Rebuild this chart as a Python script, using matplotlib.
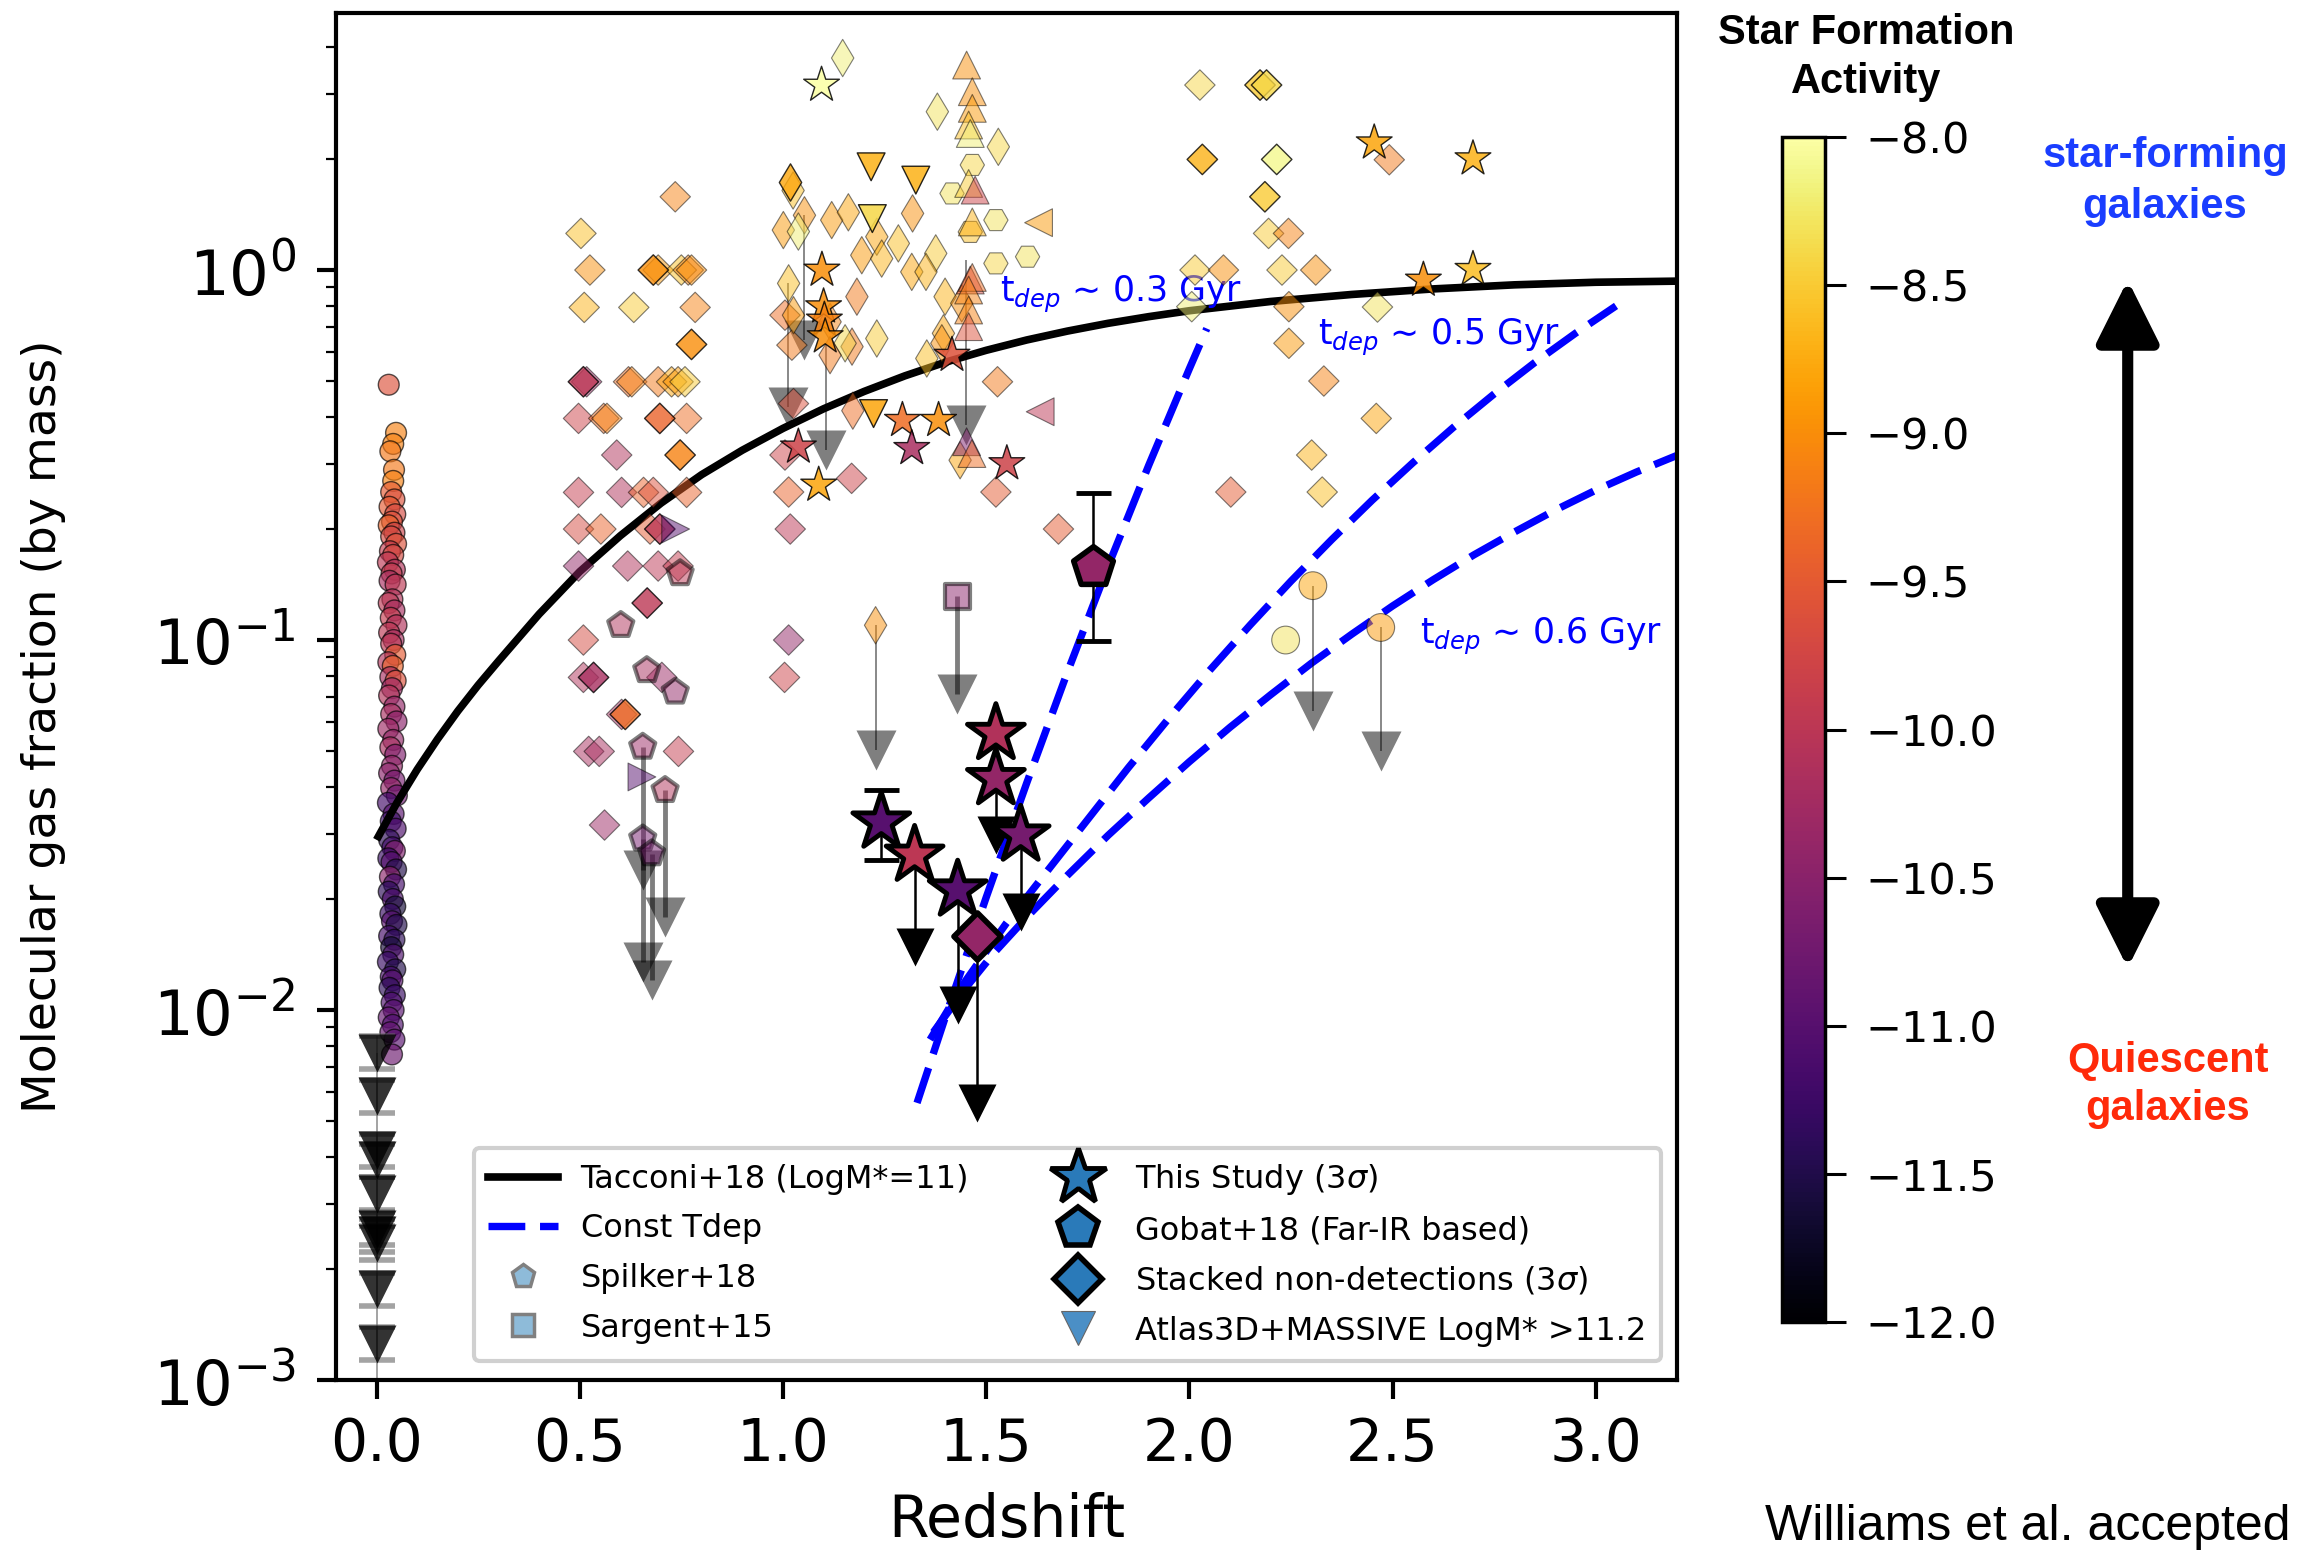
import numpy as np
import matplotlib.pyplot as plt
from matplotlib.lines import Line2D
from matplotlib.patches import FancyArrowPatch
from matplotlib.cm import ScalarMappable
from matplotlib.colors import Normalize

plt.rcParams['font.family'] = ['DejaVu Sans']
plt.rcParams['mathtext.fontset'] = 'dejavusans'

# z = redshift, logf = log10(molecular gas fraction), ssfr = log10(sSFR / yr^-1)

# Tacconi+18 scaling relation at LogM*=11
tacconi_z = [0.00, 0.05, 0.10, 0.15, 0.20, 0.25, 0.30, 0.40, 0.50, 0.60,
             0.70, 0.80, 0.90, 1.00, 1.10, 1.20, 1.30, 1.40, 1.50, 1.60,
             1.70, 1.80, 1.90, 2.00, 2.20, 2.40, 2.60, 2.80, 3.00, 3.20]
tacconi_logf = [-1.540, -1.440, -1.350, -1.268, -1.192, -1.122, -1.057, -0.930, -0.815, -0.718,
                -0.630, -0.553, -0.487, -0.428, -0.375, -0.328, -0.286, -0.249, -0.217, -0.189,
                -0.165, -0.144, -0.126, -0.110, -0.085, -0.066, -0.051, -0.040, -0.033, -0.030]

# constant depletion time tracks
tdep03_z = [1.33, 1.40, 1.50, 1.60, 1.70, 1.80, 1.90, 2.00, 2.043]
tdep03_logf = [-2.251, -2.018, -1.696, -1.386, -1.087, -0.801, -0.528, -0.267, -0.158]
tdep05_z = [1.362, 1.45, 1.55, 1.65, 1.75, 1.85, 1.95, 2.05, 2.15, 2.25,
            2.35, 2.45, 2.55, 2.65, 2.75, 2.85, 2.95, 3.05]
tdep05_logf = [-2.080, -1.920, -1.765, -1.625, -1.485, -1.345, -1.211, -1.082, -0.959, -0.841,
               -0.729, -0.622, -0.521, -0.425, -0.335, -0.250, -0.171, -0.097]
tdep06_z = [1.37, 1.45, 1.52, 1.60, 1.70, 1.80, 1.90, 2.00, 2.10, 2.20,
            2.30, 2.40, 2.50, 2.60, 2.70, 2.80, 2.90, 3.00, 3.10, 3.20]
tdep06_logf = [-2.060, -1.940, -1.845, -1.749, -1.636, -1.528, -1.427, -1.329, -1.236, -1.148,
               -1.063, -0.984, -0.908, -0.837, -0.770, -0.708, -0.649, -0.595, -0.546, -0.501]

# local galaxies (z ~ 0 column)
col_z = [0.030, 0.048, 0.041, 0.034, 0.043, 0.041, 0.036, 0.044, 0.032, 0.046,
         0.038, 0.030, 0.044, 0.036, 0.048, 0.033, 0.041, 0.028, 0.045, 0.037,
         0.032, 0.047, 0.039, 0.030, 0.044, 0.035, 0.049, 0.031, 0.042, 0.036,
         0.046, 0.029, 0.040, 0.034, 0.047, 0.038, 0.031, 0.044, 0.036, 0.049,
         0.029, 0.041, 0.034, 0.046, 0.038, 0.031, 0.044, 0.036, 0.050, 0.028,
         0.042, 0.035, 0.047, 0.031, 0.039, 0.045, 0.029, 0.037, 0.048, 0.033,
         0.043, 0.030, 0.040, 0.046, 0.034, 0.038, 0.049, 0.031, 0.044, 0.036,
         0.041, 0.028, 0.046, 0.035, 0.039, 0.032, 0.045, 0.037, 0.042, 0.030,
         0.040, 0.034, 0.044, 0.038]
col_logf = [-0.31, -0.44, -0.47, -0.49, -0.54, -0.57, -0.60, -0.62, -0.64, -0.66,
            -0.68, -0.69, -0.71, -0.72, -0.74, -0.76, -0.77, -0.79, -0.81, -0.82,
            -0.84, -0.85, -0.89, -0.90, -0.92, -0.94, -0.96, -0.98, -1.00, -1.01,
            -1.04, -1.06, -1.07, -1.10, -1.11, -1.13, -1.15, -1.18, -1.20, -1.22,
            -1.24, -1.27, -1.29, -1.31, -1.34, -1.36, -1.38, -1.40, -1.42, -1.44,
            -1.47, -1.49, -1.51, -1.54, -1.56, -1.57, -1.59, -1.60, -1.62, -1.64,
            -1.66, -1.68, -1.70, -1.72, -1.74, -1.76, -1.77, -1.80, -1.81, -1.83,
            -1.85, -1.87, -1.89, -1.91, -1.92, -1.94, -1.96, -1.98, -2.00, -2.02,
            -2.04, -2.06, -2.08, -2.12]
col_ssfr = [-9.6, -9.1, -9.1, -9.2, -9.2, -9.1, -9.5, -9.6, -9.5, -9.7,
            -9.6, -9.4, -9.8, -9.7, -9.6, -9.9, -9.7, -10.0, -10.1, -9.9,
            -10.2, -10.0, -10.1, -10.0, -10.2, -9.9, -10.1, -10.0, -10.2, -10.0,
            -9.5, -10.1, -9.4, -10.2, -9.6, -10.3, -10.1, -10.4, -10.2, -10.5,
            -10.3, -10.4, -10.2, -10.6, -10.4, -10.5, -10.7, -10.4, -10.8, -11.2,
            -11.0, -11.3, -11.1, -11.4, -11.2, -10.6, -11.3, -11.0, -11.5, -10.5,
            -11.2, -11.4, -11.1, -11.6, -11.3, -11.0, -11.5, -11.2, -11.4, -11.6,
            -11.1, -11.3, -11.5, -11.2, -11.0, -11.4, -11.3, -11.1, -11.0, -10.9,
            -11.1, -10.9, -11.0, -10.8]

# Atlas3D + MASSIVE upper limits at z = 0
atlas_z = [0.0] * 10
atlas_logf = [-2.115, -2.233, -2.379, -2.406, -2.496, -2.591, -2.609, -2.630, -2.755, -2.902]
atlas_err_dex = 0.045

# literature diamonds (square)
dia_z = [0.735, 0.503, 0.525, 0.693, 0.750, 0.767, 0.775, 0.511, 0.633, 0.784,
         0.517, 0.620, 0.628, 0.693, 0.726, 0.742, 0.759, 0.497, 0.559, 0.567,
         0.763, 0.591, 0.497, 0.603, 0.657, 0.681, 0.763, 0.497, 0.552, 0.673,
         0.497, 0.618, 0.693, 0.742, 0.509, 0.509, 0.702, 0.603, 0.522, 0.548,
         0.743, 0.561, 1.005, 1.022, 1.026, 1.005, 1.014, 1.018, 1.014, 1.004,
         1.169, 1.528, 1.524, 1.678, 2.026, 2.195, 2.244, 2.014, 2.084, 2.228,
         2.311, 2.006, 2.245, 2.245, 2.331, 2.301, 2.327, 2.102, 2.492, 2.463,
         2.460]
dia_logf = [0.198, 0.099, 0.0, 0.0, 0.0, 0.0, 0.0, -0.101, -0.101, -0.101,
            -0.302, -0.302, -0.302, -0.302, -0.302, -0.302, -0.302, -0.401, -0.401, -0.401,
            -0.401, -0.500, -0.601, -0.601, -0.601, -0.601, -0.601, -0.700, -0.700, -0.700,
            -0.800, -0.800, -0.800, -0.800, -1.000, -1.101, -1.101, -1.201, -1.301, -1.301,
            -1.301, -1.500, -0.122, -0.203, -0.361, -0.500, -0.600, -0.700, -1.000, -1.101,
            -0.563, -0.302, -0.600, -0.700, 0.500, 0.099, 0.099, 0.0, 0.0, 0.0,
            0.0, -0.099, -0.099, -0.198, -0.300, -0.500, -0.600, -0.600, 0.298, -0.100,
            -0.401]
dia_ssfr = [-9.1, -8.6, -9.0, -8.9, -8.6, -9.1, -9.0, -8.7, -8.5, -9.1,
            -10.3, -9.3, -9.1, -9.2, -8.8, -8.9, -8.5, -9.8, -9.3, -9.1,
            -9.3, -10.1, -9.9, -10.1, -9.4, -9.6, -9.4, -9.7, -9.4, -9.5,
            -10.4, -10.1, -10.0, -9.9, -9.7, -10.1, -10.3, -10.2, -10.2, -10.2,
            -9.9, -10.3, -9.3, -9.2, -9.6, -9.8, -9.4, -10.0, -10.4, -9.8,
            -9.8, -9.2, -9.5, -9.5, -8.4, -8.5, -9.1, -8.5, -9.0, -8.5,
            -9.0, -8.2, -9.0, -8.9, -9.1, -8.7, -8.6, -9.5, -9.2, -8.3,
            -8.8]

# overlapping / darker diamonds
dia2_z = [0.775, 0.697, 0.697, 0.666, 0.534, 0.612, 0.509, 0.681, 0.747,
          2.174, 2.190, 2.032, 2.215, 2.186]
dia2_logf = [-0.201, -0.401, -0.700, -0.900, -1.101, -1.201, -0.302, 0.0, -0.500,
             0.500, 0.500, 0.299, 0.299, 0.198]
dia2_ssfr = [-9.0, -9.4, -10.0, -10.0, -10.2, -9.3, -10.0, -9.0, -9.1,
             -8.5, -8.4, -8.7, -8.1, -8.5]

# literature thin diamonds
thin_z = [1.025, 1.053, 1.001, 1.038, 1.120, 1.161, 1.147, 1.380, 1.530, 1.319,
          1.231, 1.194, 1.284, 1.243, 1.376, 1.317, 1.352, 1.014, 1.026, 1.116,
          1.182, 1.399, 1.440, 1.170, 1.231, 1.153, 1.116, 1.395, 1.391, 1.354,
          1.172, 1.436, 1.228]
thin_logf = [0.215, 0.148, 0.108, 0.104, 0.135, 0.156, 0.573, 0.428, 0.333, 0.153,
             0.090, 0.040, 0.072, 0.031, 0.045, -0.005, -0.005, -0.036, -0.122, -0.140,
             -0.072, -0.072, -0.090, -0.207, -0.185, -0.198, -0.230, -0.171, -0.198, -0.239,
             -0.380, -0.514, -0.960]
thin_ssfr = [-8.6, -9.0, -8.9, -8.2, -8.9, -8.8, -8.2, -8.3, -8.4, -9.0,
             -8.8, -8.9, -8.6, -8.7, -8.5, -8.8, -8.7, -8.6, -8.9, -9.1,
             -9.2, -8.7, -9.0, -9.2, -8.5, -8.4, -9.2, -8.8, -9.0, -8.6,
             -9.3, -8.8, -9.0]
thin2_z = [1.018]
thin2_logf = [0.238]
thin2_ssfr = [-8.8]

hex_z = [1.466, 1.416, 1.524, 1.461, 1.524, 1.602]
hex_logf = [0.284, 0.207, 0.135, 0.103, 0.018, 0.036]
hex_ssfr = [-8.4, -8.3, -8.3, -8.6, -8.4, -8.3]

up_z = [1.452, 1.466, 1.466, 1.457, 1.461, 1.457, 1.473, 1.466, 1.461, 1.466,
        1.457, 1.457, 1.457, 1.452, 1.465]
up_logf = [0.554, 0.482, 0.437, 0.392, 0.369, 0.234, 0.216, 0.130, -0.027, -0.020,
           -0.054, -0.108, -0.153, -0.464, -0.496]
up_ssfr = [-9.0, -9.0, -8.9, -8.6, -8.2, -8.5, -9.8, -8.7, -9.7, -9.3,
           -9.1, -9.1, -9.6, -10.6, -9.3]

down_z = [1.217, 1.327, 1.220, 1.223]
down_logf = [0.279, 0.243, 0.139, -0.388]
down_ssfr = [-8.7, -8.7, -8.4, -8.8]

left_z = [1.629, 1.633]
left_logf = [0.128, -0.383]
left_ssfr = [-8.9, -10.0]

right_z = [0.736, 0.653]
right_logf = [-0.700, -1.370]
right_ssfr = [-11.0, -11.0]

star_z = [1.095, 1.096, 1.100, 1.102, 1.104, 1.294, 1.383, 1.317, 1.551, 1.038,
          1.088, 1.416, 2.455, 2.576, 2.698, 2.698]
star_logf = [0.500, 0.0, -0.099, -0.135, -0.180, -0.406, -0.406, -0.482, -0.523, -0.478,
             -0.581, -0.230, 0.344, -0.027, 0.301, 0.002]
star_ssfr = [-8.0, -9.0, -9.0, -9.1, -9.0, -9.3, -9.0, -10.2, -9.8, -9.8,
             -8.8, -9.6, -8.8, -9.0, -8.7, -8.6]

circ_z = [2.304, 2.471, 2.237]
circ_logf = [-0.853, -0.966, -1.000]
circ_ssfr = [-8.8, -8.9, -8.3]

# Spilker+18
spilker_z = [0.601, 0.665, 0.735, 0.655, 0.710, 0.655, 0.677, 0.747]
spilker_logf = [-0.960, -1.082, -1.140, -1.289, -1.406, -1.537, -1.577, -0.820]
spilker_ssfr = [-10.1, -10.2, -10.4, -10.3, -10.1, -10.7, -10.7, -10.0]
spilker_lim_z = [0.655, 0.710, 0.655, 0.677]
spilker_lim_top = [-1.289, -1.406, -1.537, -1.577]
spilker_lim_bot = [-1.622, -1.749, -1.870, -1.920]

# Sargent+15
sargent_z = [1.429]
sargent_logf = [-0.881]
sargent_ssfr = [-10.5]
sargent_lim_bot = [-1.145]

# other literature upper limits
lim_z = [1.053, 1.012, 1.107, 1.450, 1.228, 2.304, 2.471]
lim_top = [0.148, -0.036, -0.200, 0.027, -0.960, -0.853, -0.966]
lim_bot = [-0.190, -0.370, -0.487, -0.419, -1.298, -1.192, -1.299]

# this study
this_z = [1.242, 1.324, 1.430, 1.524, 1.524, 1.585]
this_f = [0.0322, 0.0262, 0.0211, 0.0559, 0.0422, 0.0297]
this_ssfr = [-11.0, -10.0, -11.0, -10.1, -10.4, -10.7]
this_err_lo = [0.0067]
this_err_hi = [0.0072]
this_lim_z = [1.324, 1.430, 1.524, 1.585]
this_lim_top = [0.0262, 0.0211, 0.0422, 0.0297]
this_lim_bot = [0.0148, 0.0103, 0.0297, 0.0184]

# Gobat+18
gobat_z, gobat_f, gobat_ssfr = [1.762], [0.158], [-10.4]
gobat_err_lo, gobat_err_hi = [0.0585], [0.092]

# stacked non-detections
stack_z, stack_f, stack_ssfr = [1.477], [0.0159], [-10.4]
stack_lim_bot = [0.0056]

cb_ticks = [-12.0, -11.5, -11.0, -10.5, -10.0, -9.5, -9.0, -8.5, -8.0]

# ---------------------------------------------------------------------------
cmap = plt.get_cmap('inferno')
norm = Normalize(vmin=-12.0, vmax=-8.0)

fig = plt.figure(figsize=(23.15, 15.52), dpi=100)
ax = fig.add_axes([0.1451, 0.1108, 0.5793, 0.8808])
ax.set_yscale('log')
ax.set_xlim(-0.1, 3.2)
ax.set_ylim(1e-3, 4.95)


def lin(v):
    return np.power(10.0, np.asarray(v, dtype=float))


def cloud(z, logf, ssfr, marker, ms, alpha=0.5, lw=0.8, ec='k', zorder=3):
    ax.scatter(z, lin(logf), c=ssfr, cmap=cmap, norm=norm, marker=marker,
               s=ms ** 2, alpha=alpha, edgecolors=ec, linewidths=lw, zorder=zorder)


def drop(z, top, bot, lw, ms, color=(0, 0, 0, 0.5), zorder=2.5):
    ax.vlines(z, bot, top, colors=[color], lw=lw, zorder=zorder)
    ax.plot(z, bot, ls='none', marker='v', ms=ms, mfc=color, mec='none', zorder=zorder)


# local column sits underneath the scaling relation
cloud(col_z, col_logf, col_ssfr, 'o', 15, alpha=0.65, lw=1.0, zorder=1.8)

# model curves
ax.plot(tacconi_z, lin(tacconi_logf), color='k', lw=5.5, zorder=2,
        solid_capstyle='butt', solid_joinstyle='round')
for zz, ff in [(tdep03_z, tdep03_logf), (tdep05_z, tdep05_logf), (tdep06_z, tdep06_logf)]:
    ax.plot(zz, lin(ff), color='blue', lw=5.3, ls=(0, (5, 2)), zorder=2)

tdep_style = dict(color='blue', fontsize=25, va='baseline')
ax.text(1.534, lin(-0.086), 't$_{dep}$ \u223c 0.3 Gyr', **tdep_style)
ax.text(2.316, lin(-0.203), 't$_{dep}$ \u223c 0.5 Gyr', **tdep_style)
ax.text(2.568, lin(-1.012), 't$_{dep}$ \u223c 0.6 Gyr', **tdep_style)

# Atlas3D + MASSIVE
atlas_f = lin(atlas_logf)
ax.vlines(0.0, 1e-3, atlas_f.max(), colors=[(0.3, 0.3, 0.3, 0.6)], lw=1.2, zorder=2)
ax.errorbar(atlas_z, atlas_f,
            yerr=[atlas_f * (1 - 10 ** -atlas_err_dex), atlas_f * (10 ** atlas_err_dex - 1)],
            fmt='none', ecolor=(0.4, 0.4, 0.4, 0.6), elinewidth=1.2,
            capsize=13, capthick=4, zorder=3)
ax.plot(atlas_z, atlas_f, ls='none', marker='v', ms=27, mfc=(0, 0, 0, 0.8),
        mec='none', zorder=3)

# literature limits
drop(spilker_lim_z, lin(spilker_lim_top), lin(spilker_lim_bot), lw=3.5, ms=29)
drop(sargent_z, lin(sargent_logf), lin(sargent_lim_bot), lw=3.5, ms=29)
drop(lim_z, lin(lim_top), lin(lim_bot), lw=1.3, ms=29)

# literature points
cloud(dia_z, dia_logf, dia_ssfr, 'D', 15.5)
cloud(dia2_z, dia2_logf, dia2_ssfr, 'D', 15.5, alpha=0.8, lw=1.0)
cloud(thin_z, thin_logf, thin_ssfr, 'd', 19)
cloud(thin2_z, thin2_logf, thin2_ssfr, 'd', 19, alpha=0.8, lw=1.0)
cloud(hex_z, hex_logf, hex_ssfr, 'H', 17.5)
cloud(up_z, up_logf, up_ssfr, '^', 20)
cloud(down_z, down_logf, down_ssfr, 'v', 20, alpha=0.85, lw=1.0)
cloud(left_z, left_logf, left_ssfr, '<', 20)
cloud(right_z, right_logf, right_ssfr, '>', 20)
cloud(star_z, star_logf, star_ssfr, '*', 27, alpha=0.85, lw=1.0)
cloud(circ_z, circ_logf, circ_ssfr, 'o', 20)
cloud(spilker_z, spilker_logf, spilker_ssfr, 'p', 19, lw=3.0)
cloud(sargent_z, sargent_logf, sargent_ssfr, 's', 18, lw=3.0)

# this study, Gobat+18 and stacked non-detections
drop(this_lim_z, this_lim_top, this_lim_bot, lw=1.8, ms=28, color='k', zorder=4)
drop(stack_z, stack_f, stack_lim_bot, lw=1.8, ms=28, color='k', zorder=4)
ax.errorbar(this_z[:1], this_f[:1], yerr=[this_err_lo, this_err_hi], fmt='none',
            ecolor='k', elinewidth=1.8, capsize=12.6, capthick=3.5, zorder=4)
ax.errorbar(gobat_z, gobat_f, yerr=[gobat_err_lo, gobat_err_hi], fmt='none',
            ecolor='k', elinewidth=1.8, capsize=12.6, capthick=3.5, zorder=4)
ax.scatter(gobat_z, gobat_f, c=gobat_ssfr, cmap=cmap, norm=norm, marker='p',
           s=30 ** 2, edgecolors='k', linewidths=4, zorder=6)
ax.scatter(stack_z, stack_f, c=stack_ssfr, cmap=cmap, norm=norm, marker='D',
           s=24 ** 2, edgecolors='k', linewidths=4, zorder=6)
ax.scatter(this_z, this_f, c=this_ssfr, cmap=cmap, norm=norm, marker='*',
           s=43 ** 2, edgecolors='k', linewidths=3.5, zorder=7)

# axes styling
ax.set_xticks([0.0, 0.5, 1.0, 1.5, 2.0, 2.5, 3.0])
ax.tick_params(axis='both', which='major', labelsize=42, length=14, width=3)
ax.tick_params(axis='y', which='major', labelsize=45, pad=15)
ax.tick_params(axis='y', which='minor', length=7, width=1.6)
ax.tick_params(axis='x', pad=12)
for sp in ax.spines.values():
    sp.set_linewidth(3)
ax.set_xlabel('Redshift', fontsize=42)
ax.xaxis.set_label_coords(0.5, -0.082)
ax.set_ylabel('Molecular gas fraction (by mass)', fontsize=34)
ax.yaxis.set_label_coords(-0.201, 0.478)

# legend
blue = '#2a7ab9'
handles = [
    Line2D([], [], color='k', lw=5.5),
    Line2D([], [], color='blue', lw=5.3, ls=(0, (5, 2))),
    Line2D([], [], ls='none', marker='p', ms=17, mfc=(0.12, 0.47, 0.71, 0.5),
           mec=(0.5, 0.5, 0.5), mew=2.5),
    Line2D([], [], ls='none', marker='s', ms=16, mfc=(0.12, 0.47, 0.71, 0.5),
           mec=(0.5, 0.5, 0.5), mew=2.5),
    Line2D([], [], ls='none', marker='*', ms=42, mfc=blue, mec='k', mew=3.5),
    Line2D([], [], ls='none', marker='p', ms=30, mfc=blue, mec='k', mew=4),
    Line2D([], [], ls='none', marker='D', ms=24, mfc=blue, mec='k', mew=4),
    Line2D([], [], ls='none', marker='v', ms=24, mfc='#4b8fc6', mec=(0.4, 0.4, 0.4), mew=0.8),
]
labels = ['Tacconi+18 (LogM*=11)', 'Const Tdep', 'Spilker+18', 'Sargent+15',
          r'This Study (3$\sigma$)', 'Gobat+18 (Far-IR based)',
          r'Stacked non-detections (3$\sigma$)', 'Atlas3D+MASSIVE LogM* >11.2']
leg = ax.legend(handles, labels, ncol=2, fontsize=23, loc='lower right',
                bbox_to_anchor=(0.988, 0.014), borderaxespad=0, handlelength=2.2,
                handletextpad=0.7, columnspacing=2.3, labelspacing=0.58,
                borderpad=0.45, framealpha=1, fancybox=True)
leg.get_frame().set_edgecolor('#d0d0d0')
leg.get_frame().set_linewidth(3)
leg.set_zorder(8)

# colour bar
cax = fig.add_axes([0.7698, 0.1482, 0.0186, 0.7635])
cb = fig.colorbar(ScalarMappable(norm=norm, cmap=cmap), cax=cax, ticks=cb_ticks)
cb.ax.tick_params(labelsize=31, length=15, width=2.2, pad=14)
cb.outline.set_linewidth(2.5)

side = ['Liberation Sans', 'DejaVu Sans']
fig.text(0.806, 0.9718, 'Star Formation', ha='center', va='baseline',
         fontsize=30, fontweight='bold', family=side)
fig.text(0.806, 0.9401, 'Activity', ha='center', va='baseline',
         fontsize=30, fontweight='bold', family=side)
fig.text(0.9352, 0.8921, 'star-forming', ha='center', va='baseline',
         fontsize=30, fontweight='bold', color='#1a3dff', family=side)
fig.text(0.9352, 0.8596, 'galaxies', ha='center', va='baseline',
         fontsize=30, fontweight='bold', color='#1a3dff', family=side)
fig.text(0.9363, 0.3093, 'Quiescent', ha='center', va='baseline',
         fontsize=30, fontweight='bold', color='#ff2a0a', family=side)
fig.text(0.9363, 0.2781, 'galaxies', ha='center', va='baseline',
         fontsize=30, fontweight='bold', color='#ff2a0a', family=side)
fig.text(0.7624, 0.0077, 'Williams et al. accepted', ha='left', va='baseline',
         fontsize=36, family=side)

arrow = FancyArrowPatch((0.9191, 1 - 280 / 1552), (0.9191, 1 - 968 / 1552),
                        transform=fig.transFigure,
                        arrowstyle='<|-|>,head_length=38,head_width=19',
                        mutation_scale=1, lw=8, color='k', shrinkA=0, shrinkB=0)
fig.add_artist(arrow)

fig.savefig('out.png', dpi=100)
